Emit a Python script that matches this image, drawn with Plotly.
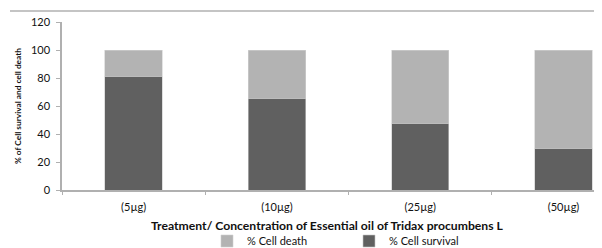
import plotly.graph_objects as go

categories = ["(5µg)", "(10µg)", "(25µg)", "(50µg)"]
cell_survival = [81.4, 65.5, 47.6, 29.8]
cell_death = [18.6, 34.5, 52.4, 70.2]
y_ticks = [0, 20, 40, 60, 80, 100, 120]

FONT = "Lato"
# page body has an 8px margin, so the figure is sized/offset to compensate
fig = go.Figure()
fig.add_trace(go.Bar(x=categories, y=cell_survival, name="% Cell survival",
                     marker=dict(color="#606060", line=dict(color="#c8c8c8", width=0.6)),
                     legend="legend2"))
fig.add_trace(go.Bar(x=categories, y=cell_death, name="% Cell death",
                     marker=dict(color="#b3b3b3", line=dict(color="#d0d0d0", width=0.6)),
                     legend="legend"))

leg_y = -(241 - 190) / 168
fig.update_layout(
    width=594, height=240,
    margin=dict(l=54, r=0, t=14, b=58, autoexpand=False),
    barmode="stack", bargap=0.6,
    plot_bgcolor="white", paper_bgcolor="white",
    font=dict(family=FONT, size=11, color="#111111"),
    showlegend=True,
    legend=dict(x=(207 - 62) / 540, y=leg_y, xanchor="left", yanchor="middle",
                orientation="h", font=dict(size=11), bgcolor="rgba(0,0,0,0)"),
    legend2=dict(x=(349 - 62) / 540, y=leg_y, xanchor="left", yanchor="middle",
                 orientation="h", font=dict(size=11), bgcolor="rgba(0,0,0,0)"),
    xaxis=dict(range=[-0.5, -0.5 + 540 / 143.3], showline=True, linecolor="#b0b0b0",
               linewidth=1.5, ticks="outside", tickson="boundaries", ticklen=3,
               tickcolor="#b0b0b0", showgrid=False, ticklabelstandoff=6,
               tickfont=dict(size=11), automargin=False),
    yaxis=dict(range=[0, 120], tickvals=y_ticks, showline=True, linecolor="#b0b0b0",
               linewidth=1.5, ticks="outside", ticklen=4, tickcolor="#b0b0b0",
               showgrid=False, zeroline=False, tickfont=dict(size=11),
               ticklabelstandoff=4, automargin=False,
               title=dict(text="<b>% of Cell survival and cell death</b>",
                          font=dict(size=8.3), standoff=8)),
    shapes=[dict(type="line", xref="paper", yref="paper",
                 x0=(10 - 62) / 540, x1=1, y0=1 + 11 / 168, y1=1 + 11 / 168,
                 line=dict(color="#b0b0b0", width=1.5))],
    annotations=[dict(text="<b>Treatment/ Concentration of Essential oil of Tridax procumbens L</b>",
                      xref="paper", yref="paper", x=(327 - 62) / 540, y=-(226 - 190) / 168,
                      xanchor="center", yanchor="middle", showarrow=False,
                      font=dict(size=12.2))],
)

fig.write_html("out.html")
